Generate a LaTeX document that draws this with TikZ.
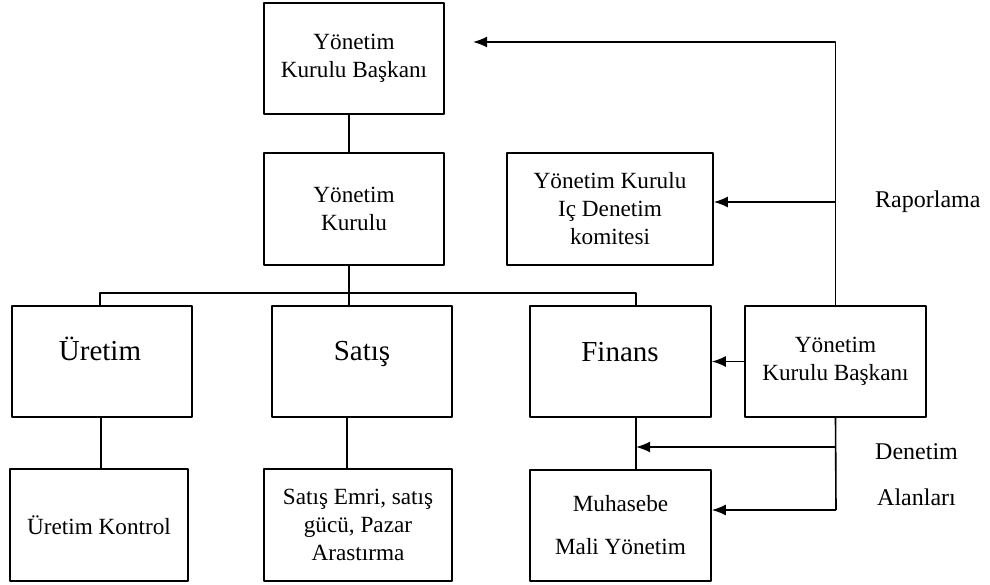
\documentclass[tikz,border=0pt]{standalone}
\usepackage{fontspec}
\setmainfont{Liberation Serif}
\usetikzlibrary{arrows.meta}
\tikzset{
  orgbox/.style={draw,line width=1.6pt,inner sep=0pt,align=center,font=\fontsize{23.2}{28}\selectfont},
  bigtxt/.style={inner sep=0pt,anchor=base,font=\fontsize{29}{32}\selectfont},
  sidetxt/.style={inner sep=0pt,anchor=west,font=\fontsize{24}{30}\selectfont},
  link/.style={line width=1.6pt},
  feed/.style={line width=1.6pt,-{Latex[length=14pt,width=11pt]}}
}
\begin{document}
\begin{tikzpicture}[x=1pt,y=-1pt,line join=round]
  \useasboundingbox (0,0) rectangle (990,585);
  % ust kademe
  \node[orgbox,minimum width=180pt,minimum height=111pt] (pres) at (354,58.5) {Yönetim\\Kurulu Başkanı};
  \node[orgbox,minimum width=180pt,minimum height=112pt] (board) at (354,209) {Yönetim\\Kurulu};
  \node[orgbox,minimum width=206pt,minimum height=112pt] (audit) at (610,209) {Yönetim Kurulu\\Iç Denetim\\komitesi};
  % bolumler
  \node[orgbox,minimum width=180pt,minimum height=111pt] (uretim) at (102,361.5) {};
  \node[bigtxt] (uretimtxt) at (100,360) {Üretim};
  \node[orgbox,minimum width=180pt,minimum height=111pt] (satis) at (362,361.5) {};
  \node[bigtxt] (satistxt) at (362,360) {Satış};
  \node[orgbox,minimum width=181pt,minimum height=111pt] (finans) at (620.5,361.5) {};
  \node[bigtxt] (finanstxt) at (620,361) {Finans};
  \node[orgbox,minimum width=181pt,minimum height=111pt] (rpres) at (835.5,361.5) {Yönetim\\Kurulu Başkanı};
  % alt birimler
  \node[orgbox,minimum width=178pt,minimum height=112pt] (ukontrol) at (99,525) {Üretim Kontrol};
  \node[orgbox,minimum width=188pt,minimum height=112pt] (satisalt) at (358,525) {Satış Emri, satış\\gücü, Pazar\\Arastırma};
  \node[orgbox,minimum width=181pt,minimum height=111pt] (muhasebe) at (620.5,525.5) {Muhasebe\\[15pt]Mali Yönetim};
  % etiketler
  \node[sidetxt] (rapor) at (875,202) {Raporlama};
  \node[sidetxt] (denetim) at (875,452) {Denetim};
  \node[sidetxt] (alanlar) at (877,497) {Alanları};
  % baglantilar
  \coordinate (bus) at (349,293);
  \coordinate (finx) at (636,0);
  \coordinate (prestip) at (473,42);
  \coordinate (denetimtip) at (636,447);
  \coordinate (spinebot) at (836,510);
  \draw[link] (pres.south -| bus) -- (board.north -| bus);
  \draw[link] (board.south -| bus) -- (bus);
  \draw[link] (uretim.north -| 100,0) |- (bus) -| (finans.north -| finx);
  \draw[link] (bus) -- (satis.north -| bus);
  \draw[link] (uretim.south -| 101,0) -- (ukontrol.north -| 101,0);
  \draw[link] (satis.south -| 347,0) -- (satisalt.north -| 347,0);
  \draw[link] (finans.south -| finx) -- (muhasebe.north -| finx);
  % denetim hatti
  \draw[feed] (rpres.north) |- (prestip);
  \draw[feed] (rpres.north |- 0,202) -- (audit.east |- 0,202);
  \draw[feed] (rpres.west) -- (finans.east);
  \draw[link] (rpres.south) -- (spinebot);
  \draw[feed] (rpres.south |- denetimtip) -- (denetimtip);
  \draw[feed] (spinebot) -- (spinebot -| muhasebe.east);
\end{tikzpicture}
\end{document}
